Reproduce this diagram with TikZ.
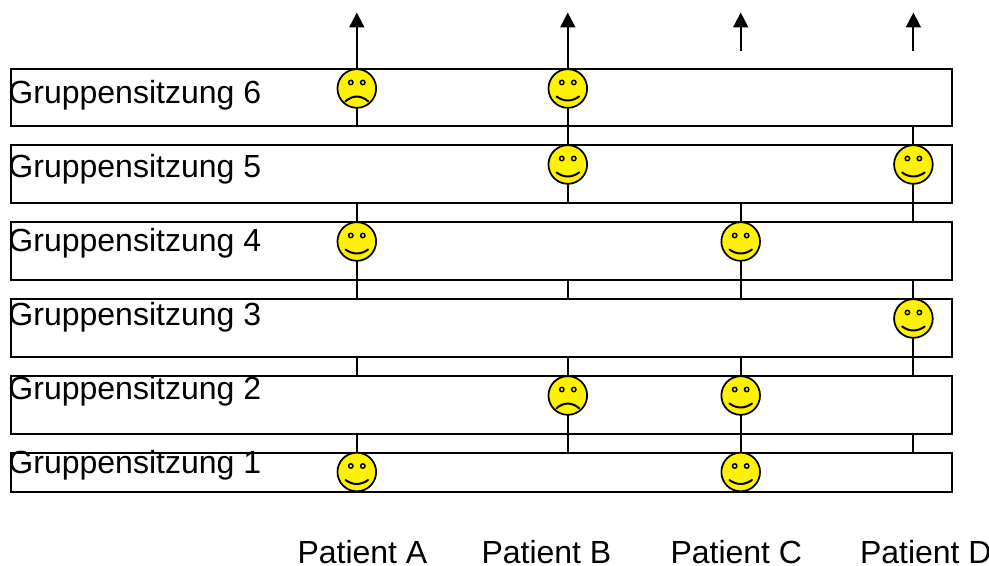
\documentclass[tikz,border=0pt]{standalone}
\usepackage{fontspec}
\setmainfont{Liberation Sans}
\usetikzlibrary{arrows.meta}
\tikzset{
  rowbox/.style={draw=black,fill=white,line width=1.3pt,inner sep=0pt,outer sep=0pt,minimum width=705.75pt},
  txt/.style={anchor=base west,inner sep=0pt,outer sep=0pt,font=\fontsize{24pt}{26pt}\selectfont,text=black},
  conn/.style={draw=black,line width=1.4pt},
  up/.style={conn,-{Triangle[length=11.25pt,width=11.25pt]}},
  face/.style={circle,draw=black,fill=yellow,line width=1.3pt,inner sep=0pt,outer sep=0pt,minimum size=29pt},
  happy/.style={face,path picture={
    \begin{scope}[shift={(path picture bounding box.center)}]
      \draw[black,line width=1.1pt] (-6,-6) circle[radius=2.2] (6,-6) circle[radius=2.2];
      \draw[black,line width=1.5pt,line cap=round] (-11.3,8) .. controls (-4,13.3) and (4,13.3) .. (11.3,8);
    \end{scope}}},
  sad/.style={face,path picture={
    \begin{scope}[shift={(path picture bounding box.center)}]
      \draw[black,line width=1.1pt] (-6,-6) circle[radius=2.2] (6,-6) circle[radius=2.2];
      \draw[black,line width=1.5pt,line cap=round] (-11.3,12.7) .. controls (-4,6.5) and (4,6.5) .. (11.3,12.7);
    \end{scope}}},
}
\begin{document}
\begin{tikzpicture}[x=0.75pt,y=-0.75pt]
\useasboundingbox (0,0) rectangle (989,566);
% rows
\node[rowbox,minimum height=42.75pt] (r6) at (481.5,97.5) {};
\node[rowbox,minimum height=43.5pt] (r5) at (481.5,174) {};
\node[rowbox,minimum height=43.5pt] (r4) at (481.5,251) {};
\node[rowbox,minimum height=43.5pt] (r3) at (481.5,328) {};
\node[rowbox,minimum height=43.5pt] (r2) at (481.5,405) {};
\node[rowbox,minimum height=29.25pt] (r1) at (481.5,472.5) {};
% columns
\coordinate (colA) at (356.8,0);
\coordinate (colB) at (567.8,0);
\coordinate (colC) at (740.7,0);
\coordinate (colD) at (913.4,0);
\coordinate (tipA) at (356.8,12.5);
\coordinate (tipB) at (567.8,12.5);
\coordinate (tipC) at (740.7,12.5);
\coordinate (tipD) at (913.4,12.5);
\coordinate (tailC) at (740.7,51);
\coordinate (tailD) at (913.4,51);
% smileys
\node[sad]   (a6) at (356.8,88.5) {};
\node[happy] (b6) at (567.8,88.5) {};
\node[happy] (b5) at (567.8,164.5) {};
\node[happy] (d5) at (913.4,164.5) {};
\node[happy] (a4) at (356.8,241.5) {};
\node[happy] (c4) at (740.7,241.5) {};
\node[happy] (d3) at (913.4,318.5) {};
\node[sad]   (b2) at (567.8,395.5) {};
\node[happy] (c2) at (740.7,395.5) {};
\node[happy] (a1) at (356.8,472) {};
\node[happy] (c1) at (740.7,472) {};
% connectors
\draw[up] (a6.north) -- (tipA);
\draw[conn] (a6.south) -- (colA |- r6.south);
\draw[conn] (colA |- r5.south) -- (a4.north);
\draw[conn] (a4.south) -- (colA |- r3.north);
\draw[conn] (colA |- r3.south) -- (colA |- r2.north);
\draw[conn] (colA |- r2.south) -- (a1.north);
\draw[up] (b6.north) -- (tipB);
\draw[conn] (b6.south) -- (b5.north);
\draw[conn] (b5.south) -- (colB |- r5.south);
\draw[conn] (colB |- r4.south) -- (colB |- r3.north);
\draw[conn] (colB |- r3.south) -- (b2.north);
\draw[conn] (b2.south) -- (colB |- r1.north);
\draw[up] (tailC) -- (tipC);
\draw[conn] (colC |- r5.south) -- (c4.north);
\draw[conn] (c4.south) -- (colC |- r3.north);
\draw[conn] (colC |- r3.south) -- (c2.north);
\draw[conn] (c2.south) -- (c1.north);
\draw[up] (tailD) -- (tipD);
\draw[conn] (colD |- r6.south) -- (d5.north);
\draw[conn] (d5.south) -- (colD |- r4.north);
\draw[conn] (colD |- r4.south) -- (d3.north);
\draw[conn] (d3.south) -- (colD |- r2.north);
\draw[conn] (colD |- r2.south) -- (colD |- r1.north);
% labels
\node[txt] (l6) at (8.5,104) {Gruppensitzung 6};
\node[txt] (l5) at (8.5,178) {Gruppensitzung 5};
\node[txt] (l4) at (8.5,252) {Gruppensitzung 4};
\node[txt] (l3) at (8.5,326) {Gruppensitzung 3};
\node[txt] (l2) at (8.5,399.5) {Gruppensitzung 2};
\node[txt] (l1) at (8.5,473.5) {Gruppensitzung 1};
\node[txt] (pa) at (297.5,563) {Patient A};
\node[txt] (pb) at (481.5,563) {Patient B};
\node[txt] (pc) at (670.5,563) {Patient C};
\node[txt] (pd) at (860,563) {Patient D};
\end{tikzpicture}
\end{document}
